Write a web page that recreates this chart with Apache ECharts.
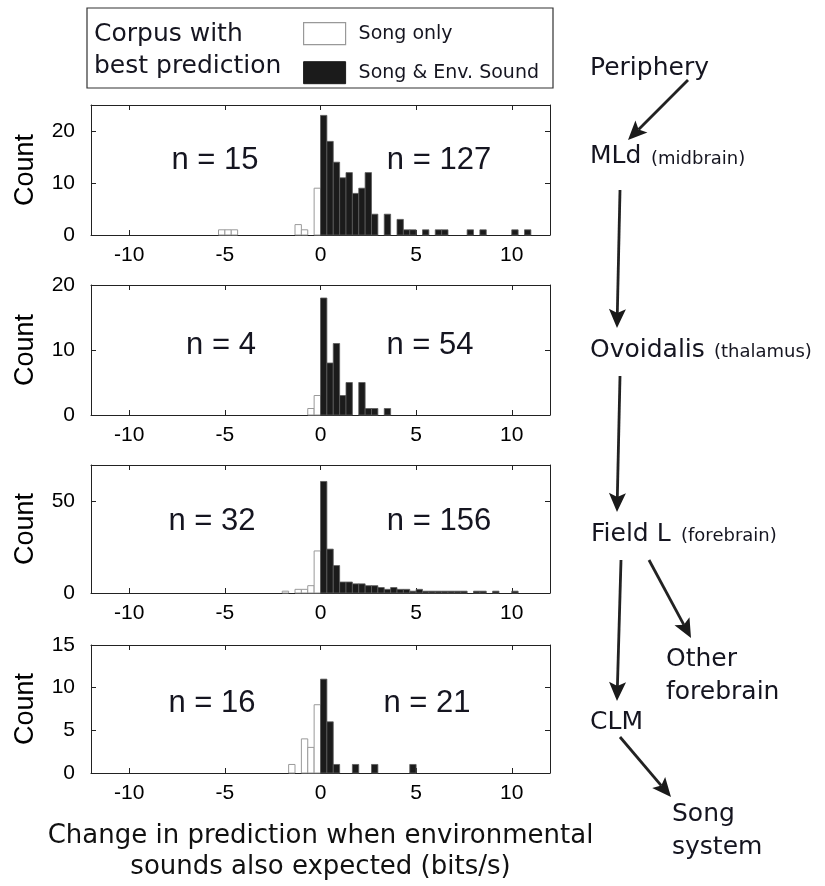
<!DOCTYPE html>
<html><head><meta charset="utf-8">
<script src="https://cdn.jsdelivr.net/npm/echarts@6/dist/echarts.min.js"></script>
<style>html,body{margin:0;padding:0;background:#fff}#c{width:825px;height:886px}</style>
</head><body><div id="c"></div>
<script>
// ---- data ----
const binWidth = 1 / 3;               // histogram bin width (bits/s)
const xTicks = [-10, -5, 0, 5, 10];
const seriesNames = ['Song only', 'Song & Env. Sound'];

// MLd (midbrain)
const mldSongBins = [-16, -15, -14, -4, -3, -1];
const mldSongCounts = [1, 1, 1, 2, 1, 9];
const mldEnvBins = [0, 1, 2, 3, 4, 5, 6, 7, 8, 10, 12, 13, 14, 16, 18, 19, 23, 25, 30, 32];
const mldEnvCounts = [23, 18, 14, 11, 12, 8, 9, 12, 4, 4, 3, 1, 1, 1, 1, 1, 1, 1, 1, 1];
const mldYTicks = [0, 10, 20];
const mldYMax = 25;

// Ovoidalis (thalamus)
const ovSongBins = [-2, -1];
const ovSongCounts = [1, 3];
const ovEnvBins = [0, 1, 2, 3, 4, 6, 7, 8, 10];
const ovEnvCounts = [18, 8, 11, 3, 5, 5, 1, 1, 1];
const ovYTicks = [0, 10, 20];
const ovYMax = 20;

// Field L (forebrain)
const flSongBins = [-6, -4, -3, -2, -1];
const flSongCounts = [1, 2, 2, 4, 23];
const flEnvBins = [0, 1, 2, 3, 4, 5, 6, 7, 8, 9, 10, 11, 12, 13, 14, 15, 16, 17, 18, 19, 20, 21, 22, 24, 25, 27, 30];
const flEnvCounts = [61, 24, 15, 6, 6, 5, 5, 4, 4, 3, 2, 3, 2, 2, 1, 2, 1, 1, 1, 1, 1, 1, 1, 1, 1, 1, 1];
const flYTicks = [0, 50];
const flYMax = 70;

// CLM
const clmSongBins = [-5, -3, -2, -1];
const clmSongCounts = [1, 4, 3, 8];
const clmEnvBins = [0, 1, 2, 5, 8, 14];
const clmEnvCounts = [11, 6, 1, 1, 1, 1];
const clmYTicks = [0, 5, 10, 15];
const clmYMax = 15;

const nSongLabels = ['n = 15', 'n = 4', 'n = 32', 'n = 16'];
const nEnvLabels = ['n = 127', 'n = 54', 'n = 156', 'n = 21'];

// ---- layout ----
const panelData = [
  {sb: mldSongBins, sc: mldSongCounts, eb: mldEnvBins, ec: mldEnvCounts, yt: mldYTicks, ym: mldYMax},
  {sb: ovSongBins, sc: ovSongCounts, eb: ovEnvBins, ec: ovEnvCounts, yt: ovYTicks, ym: ovYMax},
  {sb: flSongBins, sc: flSongCounts, eb: flEnvBins, ec: flEnvCounts, yt: flYTicks, ym: flYMax},
  {sb: clmSongBins, sc: clmSongCounts, eb: clmEnvBins, ec: clmEnvCounts, yt: clmYTicks, ym: clmYMax}
];
const gridTops = [105, 285, 465, 645];
const gridHeights = [130, 130, 128, 128];
const nSongPos = [[215, 160], [221, 345], [212, 521], [212, 703]];
const nEnvPos = [[439, 160], [430, 345], [439, 521], [427, 703]];

const AX = '#222';
const helv = '"Liberation Sans", Arial, sans-serif';
const luc = '"DejaVu Sans", sans-serif';

function renderBar(params, api) {
  const left = api.value(0), count = api.value(1);
  const p0 = api.coord([left, count]);
  const p1 = api.coord([left + binWidth, 0]);
  const s = params.seriesIndex % 2 === 0
    ? {fill: '#ffffff', stroke: '#9a9a9a', lineWidth: 1}
    : {fill: '#1b1b1b', stroke: '#5c5c5c', lineWidth: 0.8};
  return {type: 'rect', shape: {x: p0[0], y: p0[1], width: p1[0] - p0[0], height: p1[1] - p0[1]}, style: s};
}

const grids = [], xAxes = [], yAxes = [], series = [];
panelData.forEach((p, i) => {
  grids.push({left: 91, width: 459, top: gridTops[i], height: gridHeights[i]});
  const xb = {gridIndex: i, type: 'value', min: -12, max: 12, splitLine: {show: false},
    axisLine: {show: true, onZero: false, lineStyle: {color: AX, width: 1}}};
  xAxes.push(Object.assign({}, xb, {position: 'bottom',
    axisTick: {show: true, inside: true, length: 5, customValues: xTicks, lineStyle: {color: AX}},
    axisLabel: {customValues: xTicks, fontSize: 21, margin: 10, color: '#000', fontFamily: helv},
    name: i === 3 ? 'Change in prediction when environmental\nsounds also expected (bits/s)' : '',
    nameLocation: 'middle', nameGap: 48,
    nameTextStyle: {fontSize: 26, fontFamily: luc, color: '#111', lineHeight: 31}}));
  xAxes.push(Object.assign({}, xb, {position: 'top',
    axisTick: {show: true, inside: true, length: 5, customValues: xTicks, lineStyle: {color: AX}},
    axisLabel: {show: false}}));
  const yb = {gridIndex: i, type: 'value', min: 0, max: p.ym, splitLine: {show: false},
    axisLine: {show: true, onZero: false, lineStyle: {color: AX, width: 1}}};
  yAxes.push(Object.assign({}, yb, {position: 'left',
    axisTick: {show: true, inside: true, length: 5, customValues: p.yt, lineStyle: {color: AX}},
    axisLabel: {customValues: p.yt, fontSize: 21, margin: 16, color: '#000', fontFamily: helv},
    name: 'Count', nameLocation: 'middle', nameGap: 52, nameRotate: 90,
    nameTextStyle: {fontSize: 27, fontFamily: helv, color: '#000'}}));
  yAxes.push(Object.assign({}, yb, {position: 'right',
    axisTick: {show: true, inside: true, length: 5, customValues: p.yt, lineStyle: {color: AX}},
    axisLabel: {show: false}}));
  series.push({type: 'custom', name: seriesNames[0], xAxisIndex: 2 * i, yAxisIndex: 2 * i,
    renderItem: renderBar, itemStyle: {color: '#ffffff', borderColor: '#9a9a9a'},
    encode: {x: 0, y: 1}, data: p.sb.map((b, k) => [b * binWidth, p.sc[k]])});
  series.push({type: 'custom', name: seriesNames[1], xAxisIndex: 2 * i, yAxisIndex: 2 * i,
    renderItem: renderBar, itemStyle: {color: '#1b1b1b'},
    encode: {x: 0, y: 1}, data: p.eb.map((b, k) => [b * binWidth, p.ec[k]])});
});

// ---- annotations ----
const graphics = [];
function txt(text, x, y, size, font, align) {
  graphics.push({type: 'text', x: x, y: y, silent: true,
    style: {text: text, font: size + 'px ' + font, fill: '#151520', align: align || 'left', verticalAlign: 'middle'}});
}
function arrow(x1, y1, x2, y2) {
  const dx = x2 - x1, dy = y2 - y1, L = Math.hypot(dx, dy), ux = dx / L, uy = dy / L;
  const hl = 19, hw = 8.5;
  const bx = x2 - ux * hl, by = y2 - uy * hl;
  graphics.push({type: 'line', silent: true, shape: {x1: x1, y1: y1, x2: bx + ux * 4, y2: by + uy * 4},
    style: {stroke: '#222', lineWidth: 2.8}});
  graphics.push({type: 'polygon', silent: true,
    shape: {points: [[x2, y2], [bx - uy * hw, by + ux * hw], [bx + ux * 4, by + uy * 4], [bx + uy * hw, by - ux * hw]]},
    style: {fill: '#1a1a1a'}});
}
// legend frame and title
graphics.push({type: 'rect', silent: true, shape: {x: 87, y: 8, width: 466, height: 80},
  style: {fill: 'none', stroke: '#333', lineWidth: 1.2}});
txt('Corpus with', 94, 34, 25, luc);
txt('best prediction', 94, 66, 25, luc);
// n labels
nSongLabels.forEach((t, i) => txt(t, nSongPos[i][0], nSongPos[i][1], 31, helv, 'center'));
nEnvLabels.forEach((t, i) => txt(t, nEnvPos[i][0], nEnvPos[i][1], 31, helv, 'center'));
// pathway diagram
txt('Periphery', 590, 68, 25, luc);
txt('MLd', 590, 156, 25, luc);
txt('(midbrain)', 651, 159, 18, luc);
txt('Ovoidalis', 590, 350, 25, luc);
txt('(thalamus)', 714, 352, 18, luc);
txt('Field L', 591, 534, 25, luc);
txt('(forebrain)', 681, 536, 18, luc);
txt('Other', 666, 659, 25, luc);
txt('forebrain', 666, 692, 25, luc);
txt('CLM', 590, 722, 25, luc);
txt('Song', 672, 814, 25, luc);
txt('system', 672, 847, 25, luc);
arrow(688, 80, 628, 140);
arrow(620, 190, 617, 328);
arrow(620, 376, 617, 512);
arrow(621, 560, 617, 701);
arrow(649, 560, 691, 638);
arrow(620, 737, 671, 797);

const chart = echarts.init(document.getElementById('c'), null, {renderer: 'canvas'});
chart.setOption({
  animation: false,
  backgroundColor: '#fff',
  grid: grids, xAxis: xAxes, yAxis: yAxes, series: series,
  legend: {
    orient: 'vertical', left: 298, top: 17, itemWidth: 42, itemHeight: 22, itemGap: 16,
    selectedMode: false,
    textStyle: {fontSize: 19, fontFamily: luc, color: '#151520', padding: [0, 0, 0, 8]},
    data: [
      {name: seriesNames[0], icon: 'rect', itemStyle: {color: '#ffffff', borderColor: '#999', borderWidth: 1.2}},
      {name: seriesNames[1], icon: 'rect', itemStyle: {color: '#1b1b1b', borderColor: '#1b1b1b', borderWidth: 1}}
    ]
  },
  graphic: graphics
});
</script></body></html>
